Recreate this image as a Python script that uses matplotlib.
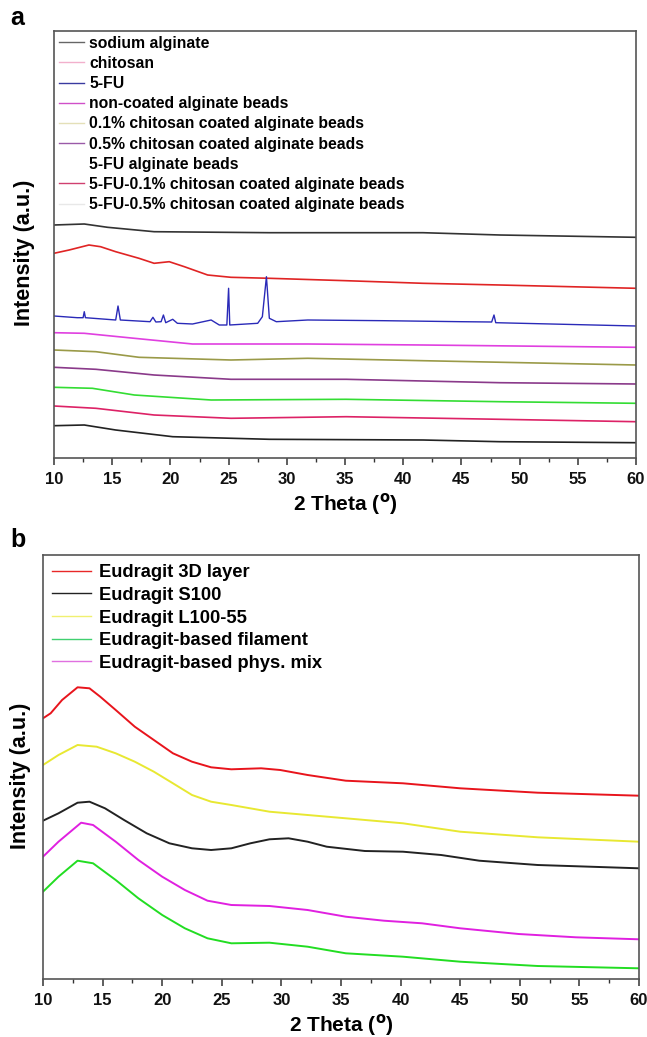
import matplotlib
matplotlib.use("Agg")
import matplotlib.pyplot as plt
from matplotlib.lines import Line2D
from matplotlib.ticker import MultipleLocator

plt.rcParams['font.family'] = ['Liberation Sans', 'DejaVu Sans']
plt.rcParams['font.weight'] = 'bold'

# ---------------- panel a data (2 theta, intensity a.u.) ----------------
a_black_top_x = [10, 12.6, 14.6, 18.6, 28.5, 41.7, 48.3, 60]
a_black_top_y = [233, 234, 230.7, 226.3, 225.3, 225.3, 223, 220.7]

a_red_x = [10, 11.3, 13.0, 14.0, 15.3, 17.3, 18.6, 19.9, 21.2, 23.2, 25.2, 28.5, 35.1, 41.7, 48.3, 60]
a_red_y = [204.7, 208, 213, 211.3, 206.3, 199.7, 194.7, 196.3, 191.3, 183, 180.7, 179.7, 177.3, 174.7, 173, 169.7]

a_blue_x = [10, 12.0, 12.5, 12.6, 12.7, 15.3, 15.5, 15.7, 18.25, 18.5, 18.75, 19.2, 19.4, 19.6,
            20.2, 20.6, 21.9, 23.5, 24.2, 24.85, 25.0, 25.1, 27.5, 27.9, 28.25, 28.5, 29.1,
            31.8, 38.4, 45.0, 47.6, 47.8, 47.95, 60]
a_blue_y = [142, 140.3, 140.3, 146.3, 140.3, 138, 152, 138, 136.3, 140.7, 136, 136.3, 143, 135.3,
            138.7, 134.7, 134, 138, 133, 133, 169.7, 133, 134.7, 141.3, 181.3, 139.7, 136.3,
            138, 137.3, 136.3, 136, 143, 135.3, 132]

a_magenta_x = [10, 12.6, 16.9, 21.9, 31.8, 41.7, 60]
a_magenta_y = [125.3, 124.7, 119.7, 114, 114, 113, 110.7]

a_olive_x = [10, 13.6, 17.3, 25.2, 31.8, 41.7, 60]
a_olive_y = [108, 106.3, 100.7, 98, 99.7, 97.3, 93]

a_purple_x = [10, 13.6, 18.6, 25.2, 35.1, 48.3, 60]
a_purple_y = [90.7, 88.7, 83, 78.7, 78.7, 75.3, 74]

a_green_x = [10, 13.3, 16.9, 23.5, 35.1, 48.3, 60]
a_green_y = [70.7, 69.7, 63, 58, 58.7, 56.3, 54.7]

a_crimson_x = [10, 13.6, 18.6, 25.2, 35.1, 48.3, 60]
a_crimson_y = [52, 49.7, 43, 39.7, 41.3, 38.7, 36.3]

a_black_bot_x = [10, 12.6, 15.3, 20.2, 28.5, 41.7, 48.3, 60]
a_black_bot_y = [32.3, 33, 28, 21.3, 18.7, 18, 16.3, 15.3]

a_labels = ["sodium alginate", "chitosan", "5-FU", "non-coated alginate beads",
            "0.1% chitosan coated alginate beads", "0.5% chitosan coated alginate beads",
            "5-FU alginate beads", "5-FU-0.1% chitosan coated alginate beads",
            "5-FU-0.5% chitosan coated alginate beads"]
a_legend_colors = ["#666666", "#f2b0cc", "#3a3aa0", "#d050c8", "#e4e0b8", "#9a5aa8",
                   "#ffffff", "#d04070", "#e8e8e8"]

# ---------------- panel b data ----------------
b_red_x = [10, 10.64, 11.6, 12.9, 13.9, 14.8, 16.1, 17.7, 19.3, 20.9, 22.5, 24.1, 25.8, 28.3,
           29.9, 32.2, 35.4, 40.2, 45.0, 51.5, 60]
b_red_y = [260.7, 265.7, 279, 291.7, 290.7, 282.3, 269, 252.3, 239, 225.7, 217.3, 211.7, 209.7,
           210.7, 209, 204, 198.3, 195.7, 190.7, 186.3, 183.3]

b_yellow_x = [10, 11.3, 12.9, 14.5, 16.1, 17.7, 19.3, 20.9, 22.5, 24.1, 25.8, 29.0, 32.2, 35.4,
              40.2, 45.0, 51.5, 60]
b_yellow_y = [214, 224, 234, 232.3, 225.7, 217.3, 207.3, 195.7, 184, 177.3, 174, 167.3, 164,
              160.7, 155.7, 147.3, 141.7, 137.3]

b_black_x = [10, 11.3, 12.9, 13.9, 15.2, 16.8, 18.7, 20.6, 22.5, 24.1, 25.8, 27.4, 29.0, 30.6,
             32.2, 33.8, 37.0, 40.2, 43.4, 46.6, 51.5, 60]
b_black_y = [158.3, 165.7, 176.3, 177.3, 170.7, 159, 145.7, 135.7, 130.7, 129, 130.7, 135.7,
             139.7, 140.7, 137.3, 132.3, 128, 127.3, 124, 118.3, 114, 110.7]

b_magenta_x = [10, 11.3, 13.2, 14.2, 16.1, 18.0, 20.0, 21.9, 23.8, 25.8, 29.0, 32.2, 35.4,
               38.6, 41.8, 45.0, 49.9, 54.7, 60]
b_magenta_y = [122.3, 137.3, 156.3, 154, 137.3, 119, 102.3, 89, 78.3, 74, 73, 69, 62.3, 58.3,
               55.7, 50.7, 45, 41.7, 39.7]

b_green_x = [10, 11.3, 12.9, 14.2, 16.1, 18.0, 20.0, 21.9, 23.8, 25.8, 29.0, 32.2, 35.4, 40.2,
             45.0, 51.5, 60]
b_green_y = [87.3, 102.3, 118.3, 115.7, 99, 80.7, 64, 50.7, 40.7, 35.7, 36.3, 32.3, 25.7,
             22.3, 17.3, 13, 10.7]

b_labels = ["Eudragit 3D layer", "Eudragit S100", "Eudragit L100-55",
            "Eudragit-based filament", "Eudragit-based phys. mix"]
b_legend_colors = ["#e82828", "#222222", "#f0f070", "#40d070", "#e070e0"]

xticks = [10, 15, 20, 25, 30, 35, 40, 45, 50, 55, 60]

W, H = 647, 1037
fig = plt.figure(figsize=(W / 100, H / 100), dpi=100)


def make_axes(left, right, top, bottom):
    return fig.add_axes([left / W, 1 - bottom / H, (right - left) / W, (bottom - top) / H])


def style_axes(ax, ymax):
    ax.set_xlim(10, 60)
    ax.set_ylim(0, ymax)
    ax.set_xticks(xticks)
    ax.xaxis.set_minor_locator(MultipleLocator(2.5))
    ax.set_yticks([])
    ax.tick_params(axis='x', which='major', direction='out', length=5, width=1.1,
                   labelsize=12, colors='#333333', labelcolor='#111111', pad=5)
    ax.tick_params(axis='x', which='minor', direction='out', length=3, width=1, colors='#333333')
    for s in ax.spines.values():
        s.set_color('#555555')
        s.set_linewidth(1.2)
    for lab in ax.get_xticklabels():
        lab.set_fontweight('bold')
    ax.set_xlabel(r"2 Theta ($^{\mathbf{o}}$)", fontsize=15, fontweight='bold', labelpad=3)
    ax.set_ylabel("Intensity (a.u.)", fontsize=15.5, fontweight='bold')


# ---------------- panel a ----------------
ax1 = make_axes(54, 636, 31, 458)
lw = 1.2
ax1.plot(a_black_top_x, a_black_top_y, color='#333333', lw=lw)
ax1.plot(a_red_x, a_red_y, color='#e02424', lw=lw)
ax1.plot(a_blue_x, a_blue_y, color='#2a2ab8', lw=1.0)
ax1.plot(a_magenta_x, a_magenta_y, color='#e040e0', lw=lw)
ax1.plot(a_olive_x, a_olive_y, color='#9a9a48', lw=lw)
ax1.plot(a_purple_x, a_purple_y, color='#8a3a8a', lw=lw)
ax1.plot(a_green_x, a_green_y, color='#33dd33', lw=lw)
ax1.plot(a_crimson_x, a_crimson_y, color='#dd2266', lw=lw)
ax1.plot(a_black_bot_x, a_black_bot_y, color='#222222', lw=lw)
style_axes(ax1, 427)
ax1.yaxis.set_label_coords(-0.033, 0.48)

handles_a = [Line2D([], [], color=c, lw=1) for c in a_legend_colors]
ax1.legend(handles_a, a_labels, loc='upper left', bbox_to_anchor=(0.0, 1.0),
           frameon=False, prop={'weight': 'bold', 'size': 11.3}, handlelength=1.6,
           handletextpad=0.35, labelspacing=0.33, borderaxespad=0.1, borderpad=0.2)

# ---------------- panel b ----------------
ax2 = make_axes(43, 639, 555, 979)
lw = 1.4
ax2.plot(b_red_x, b_red_y, color='#e8141c', lw=lw)
ax2.plot(b_yellow_x, b_yellow_y, color='#e8e832', lw=lw)
ax2.plot(b_black_x, b_black_y, color='#222222', lw=lw)
ax2.plot(b_magenta_x, b_magenta_y, color='#e020e0', lw=lw)
ax2.plot(b_green_x, b_green_y, color='#22dd22', lw=lw)
style_axes(ax2, 424)
ax2.yaxis.set_label_coords(-0.02, 0.48)

handles_b = [Line2D([], [], color=c, lw=1) for c in b_legend_colors]
ax2.legend(handles_b, b_labels, loc='upper left', bbox_to_anchor=(0.0, 1.0),
           frameon=False, prop={'weight': 'bold', 'size': 13.2}, handlelength=2.1,
           handletextpad=0.45, labelspacing=0.31, borderaxespad=0.3, borderpad=0.2)

fig.text(10 / W, 1 - 18 / H, "a", fontsize=18, fontweight='bold', va='center', ha='left')
fig.text(10 / W, 1 - 540 / H, "b", fontsize=18, fontweight='bold', va='center', ha='left')

fig.savefig("out.png", dpi=100)
